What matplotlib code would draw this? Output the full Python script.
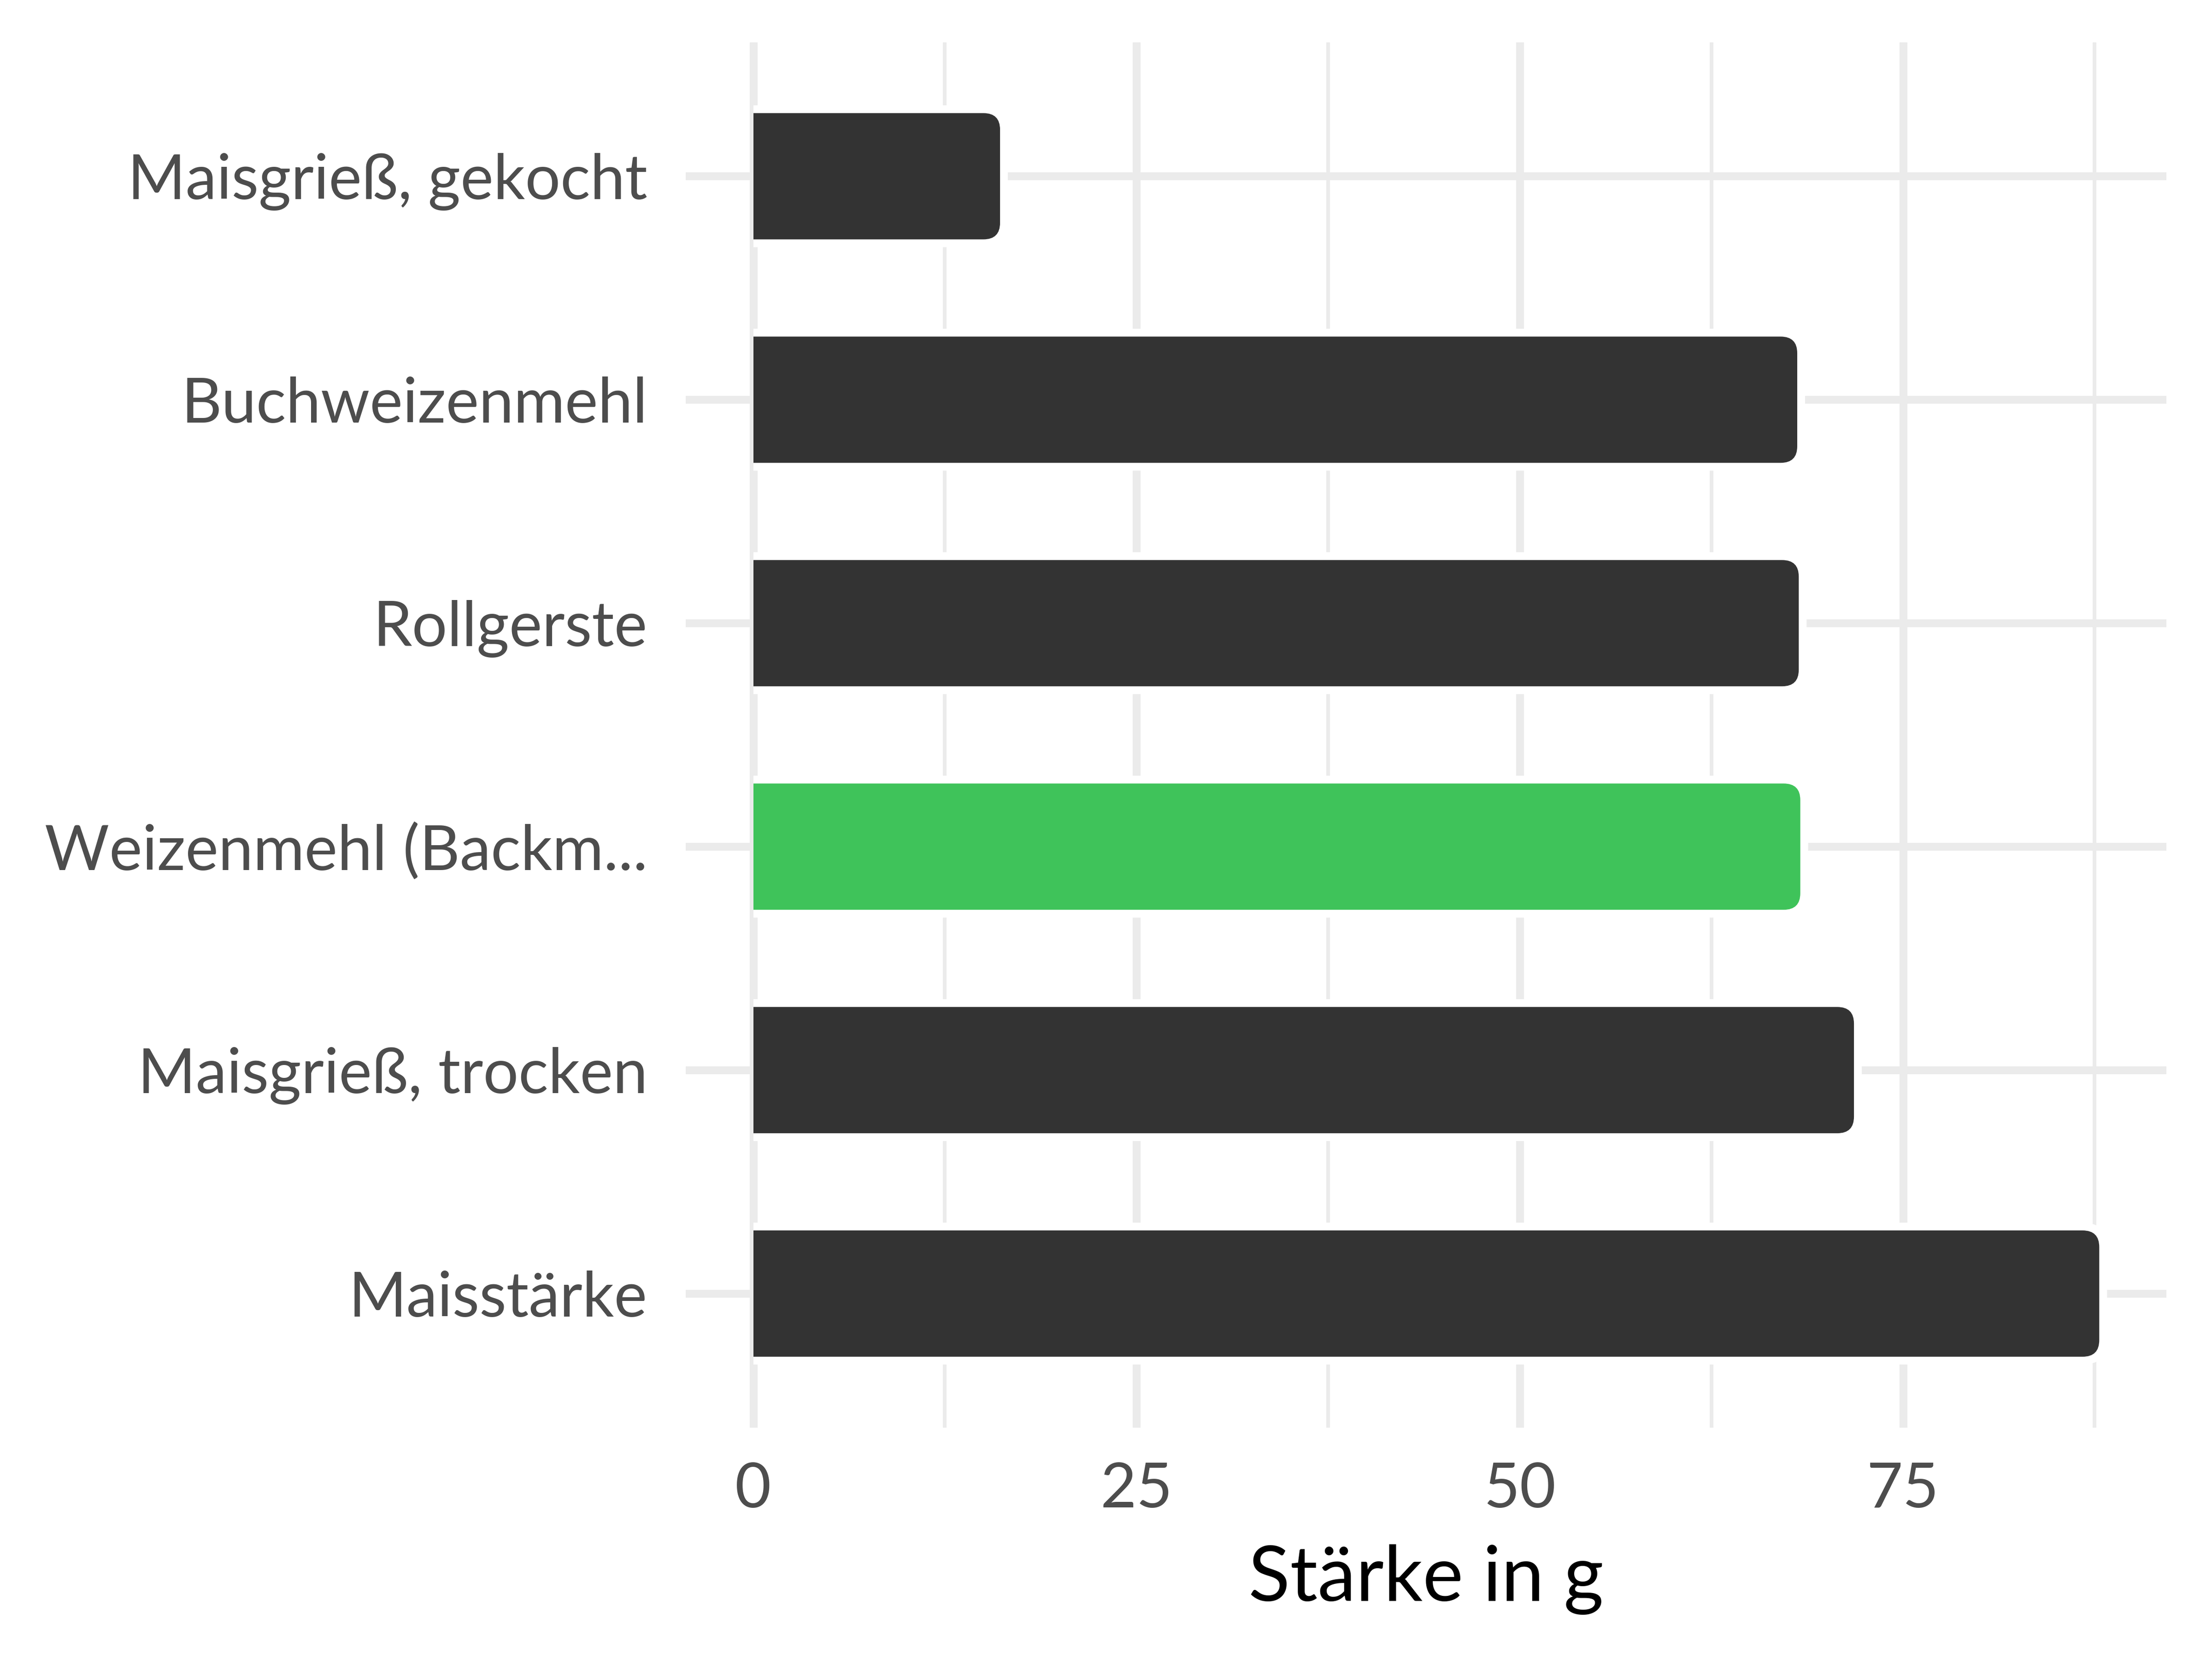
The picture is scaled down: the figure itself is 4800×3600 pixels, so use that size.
import matplotlib
matplotlib.use('Agg')
import matplotlib.pyplot as plt
from matplotlib.patches import FancyBboxPatch, Rectangle

plt.rcParams['font.family'] = ['Lato', 'DejaVu Sans']

# data, top to bottom
categories = ['Maisgrieß, gekocht', 'Buchweizenmehl', 'Rollgerste',
              'Weizenmehl (Backm...', 'Maisgrieß, trocken', 'Maisstärke']
values = [16.1, 68.1, 68.2, 68.3, 71.8, 87.8]
highlight = 'Weizenmehl (Backm...'
xticks = [0, 25, 50, 75]
xlabel = 'Stärke in g'

DARK = '#333333'
GREEN = '#3FC35A'
GRID = '#EBEBEB'
TEXT = '#4D4D4D'

W, H = 4800, 3600
fig = plt.figure(figsize=(16, 12), dpi=300)

vmax = max(values)
xmin, xmax = -0.05 * vmax, 1.05 * vmax
# pixel layout of the panel
zero_px = 1634.5
px_per_unit = 33.267
left_px = zero_px + xmin * px_per_unit
right_px = zero_px + xmax * px_per_unit
top_px, bottom_px = 91.5, 3098.0
ax = fig.add_axes([left_px / W, 1 - bottom_px / H,
                   (right_px - left_px) / W, (bottom_px - top_px) / H])

n = len(categories)
ax.set_xlim(xmin, xmax)
ax.set_ylim(n - 1 + 0.6, -0.6)
px_per_y = (bottom_px - top_px) / (n - 1 + 1.2)

# gridlines
ax.set_axisbelow(True)
ax.set_xticks(xticks)
ax.set_xticks([t + 12.5 for t in xticks], minor=True)
ax.set_yticks(range(n))
ax.set_yticklabels(categories)
ax.grid(True, which='major', color=GRID, linewidth=4.1)
ax.grid(True, which='minor', axis='x', color=GRID, linewidth=1.9)
for s in ax.spines.values():
    s.set_visible(False)
ax.tick_params(which='both', length=0)
ax.tick_params(axis='y', labelsize=32.5, labelcolor=TEXT, pad=20)
ax.tick_params(axis='x', labelsize=32.5, labelcolor=TEXT, pad=17.5)

bar_h = 0.565
r_px = 36.0
halo_px = 17.0
aspect = px_per_unit / px_per_y
rx = r_px / px_per_unit
hx = halo_px / px_per_unit
hy = halo_px / px_per_y

clip = Rectangle((0, -1), 1000, n + 2, transform=ax.transData)

for i, (cat, val) in enumerate(zip(categories, values)):
    col = GREEN if cat == highlight else DARK
    # white halo that cuts the gridlines around the bar
    halo = FancyBboxPatch((-3 * rx, i - bar_h / 2 - hy), val + 3 * rx + hx, bar_h + 2 * hy,
                          boxstyle='round,pad=0,rounding_size=%f' % (rx + hx),
                          mutation_aspect=aspect, facecolor='white',
                          edgecolor='none', zorder=1.5)
    ax.add_patch(halo)
    halo.set_clip_path(clip)
    bar = FancyBboxPatch((-3 * rx, i - bar_h / 2), val + 3 * rx, bar_h,
                         boxstyle='round,pad=0,rounding_size=%f' % rx,
                         mutation_aspect=aspect, facecolor=col,
                         edgecolor='none', zorder=2)
    ax.add_patch(bar)
    bar.set_clip_path(clip)

ax.set_xlabel(xlabel, fontsize=40, color='black')
ax.xaxis.label.set_va('baseline')
ax.xaxis.set_label_coords(0.5, (1 - 3474 / H - (1 - bottom_px / H)) / ((bottom_px - top_px) / H))

fig.savefig('out.png', dpi=300, facecolor='white')
